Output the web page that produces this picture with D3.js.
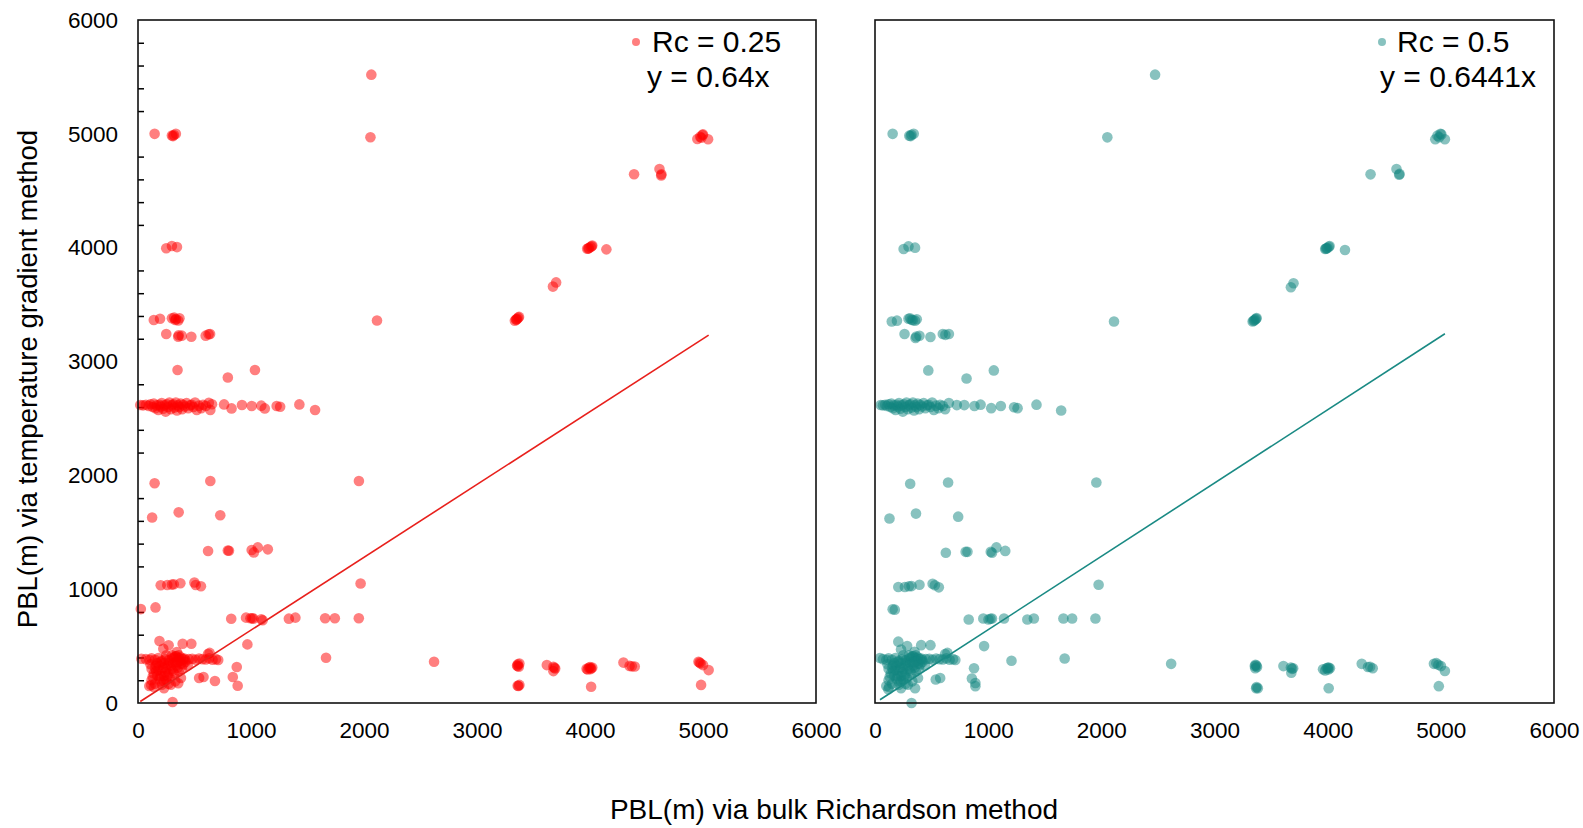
<!DOCTYPE html>
<html>
<head>
<meta charset="utf-8">
<script src="https://cdn.jsdelivr.net/npm/d3@7"></script>
<style>
  body { margin: 0; background: #fff; }
  text { font-family: "Liberation Sans", Arial, sans-serif; fill: #000; }
</style>
</head>
<body>
<div id="chart"></div>
<script>
// Data: [bulk Richardson PBL, temperature gradient PBL]
const rc025Points = [
    [2065,5520],
    [147,5000],[300,4985],[318,4990],[335,5000],[310,4980],[2057,4970],
    [4950,4955],[4975,4975],[4995,4990],[5000,4995],[5045,4952],[4985,4965],
    [4390,4645],[4615,4690],[4630,4635],[4632,4645],
    [3975,3990],[3990,3998],[4005,4005],[4015,4012],[4020,4018],[3985,3992],[4145,3985],
    [250,3995],[300,4015],[345,4005],
    [3700,3695],[3672,3658],
    [3335,3358],[3345,3368],[3355,3375],[3365,3385],[3372,3392],[3350,3370],
    [140,3365],[195,3375],[300,3380],[320,3385],[336,3374],[356,3360],[367,3380],[330,3365],
    [2115,3360],
    [250,3242],[356,3218],[387,3227],[472,3218],[599,3227],[625,3240],[638,3242],[360,3230],
    [350,2925],[1035,2925],[795,2860],
    [20,2618],[45,2615],[70,2620],[95,2610],[110,2625],[130,2600],[140,2630],[155,2590],
    [165,2615],[180,2575],[190,2620],[200,2605],[210,2635],[222,2585],[235,2615],[245,2560],
    [255,2625],[265,2600],[278,2640],[290,2580],[300,2615],[312,2625],[322,2595],[335,2640],
    [345,2570],[355,2615],[365,2600],[378,2630],[390,2580],[400,2620],[415,2605],[430,2635],
    [445,2590],[460,2615],[475,2620],[490,2600],[505,2640],[520,2575],[540,2612],[560,2590],
    [575,2620],[600,2610],[627,2637],[640,2575],[655,2625],[762,2623],[828,2588],
    [920,2618],[1006,2609],[1091,2612],[1122,2588],[1227,2609],[1258,2603],[1428,2623],[1567,2574],
    [147,1930],[640,1950],[1955,1950],
    [125,1630],[360,1675],[728,1650],
    [620,1335],[795,1340],[805,1338],[1006,1344],[1060,1367],[1025,1323],[1149,1350],
    [201,1034],[259,1037],[300,1040],[317,1043],[375,1052],[499,1058],[511,1037],[557,1025],
    [1970,1050],
    [25,825],[155,840],
    [825,740],[956,750],[995,744],[1010,745],[1022,741],[1091,735],[1103,727],[1335,741],
    [1393,750],[1656,744],[1742,744],[1954,744],
    [968,515],[1664,398],[2620,363],
    [190,545],[271,507],[224,477],[395,521],[472,521],[344,448],[634,440],[620,430],
    [30,389],[70,385],[100,380],[120,392],[150,380],[180,395],[210,370],[240,385],[270,375],
    [300,390],[320,400],[340,410],[360,395],[380,400],[400,385],[420,375],[450,385],[480,388],
    [510,380],[540,390],[570,385],[600,382],[630,392],[660,380],[690,385],[710,378],
    [120,300],[140,260],[160,330],[180,290],[200,240],[220,310],[240,270],[260,330],[280,220],
    [300,300],[320,260],[340,330],[360,280],[380,345],[250,200],[200,190],[210,160],[150,170],
    [130,230],[170,350],[230,350],[270,350],[310,350],[290,160],[330,190],[380,220],[400,340],
    [420,360],[440,330],
    [110,340],[150,310],[190,330],[210,280],[230,240],[250,300],[270,260],[290,330],[310,280],
    [330,360],[350,310],[370,370],[390,300],[170,240],[190,210],[230,190],[260,240],[330,410],
    [360,420],[300,420],[250,420],[200,360],[160,280],[120,200],[270,170],[350,360],[410,390],
    [874,316],[839,229],[681,193],[541,220],[580,229],[882,152],
    [116,159],[356,173],[306,9],[140,140],[230,130],[100,150],
    [3355,330],[3362,340],[3370,318],[3375,347],[3360,325],[3367,150],[3375,159],[3360,152],
    [3618,333],[3676,318],[3692,303],[3676,280],[3685,310],
    [3970,300],[3990,310],[4000,315],[4010,305],[4020,312],[3980,295],[4005,298],[4010,143],
    [4296,355],[4350,326],[4396,320],[4370,322],
    [4960,363],[4980,347],[5000,333],[5050,289],[4970,355],[4983,159]
];

const rc05Points = [
    [2475,5520],
    [156,5000],[303,4984],[323,4992],[342,5000],[315,4980],[2053,4969],
    [4951,4953],[4970,4984],[4997,5000],[5005,4995],[5036,4953],[4985,4970],
    [4379,4644],[4608,4691],[4632,4640],[4635,4648],
    [3978,3988],[3990,3995],[3998,3996],[4010,4008],[4017,4015],[3985,3992],[4153,3980],
    [253,3988],[296,4011],[354,4000],
    [3698,3687],[3675,3652],
    [3337,3351],[3345,3358],[3352,3363],[3360,3370],[3368,3375],[3372,3382],
    [148,3351],[194,3359],[296,3375],[310,3380],[323,3367],[354,3359],[369,3371],[335,3362],
    [2112,3351],
    [261,3242],[358,3207],[393,3226],[490,3215],[599,3242],[622,3234],[653,3242],[365,3220],
    [471,2922],[1050,2922],[809,2851],
    [50,2618],[70,2615],[90,2620],[105,2610],[120,2625],[135,2600],[145,2630],[158,2590],
    [168,2615],[182,2575],[192,2620],[202,2605],[212,2635],[224,2585],[236,2615],[246,2560],
    [256,2625],[266,2600],[278,2640],[290,2580],[300,2615],[312,2625],[322,2595],[335,2640],
    [345,2570],[355,2615],[365,2600],[378,2630],[390,2580],[400,2620],[415,2605],[430,2635],
    [445,2590],[460,2615],[475,2620],[490,2600],[505,2640],[520,2575],[540,2612],[560,2590],
    [575,2620],[600,2610],[620,2580],[653,2636],[723,2617],[789,2617],
    [879,2609],[933,2621],[1027,2590],[1112,2609],[1229,2598],[1260,2590],[1427,2621],[1645,2570],
    [311,1926],[646,1937],[1956,1937],
    [128,1621],[362,1664],[735,1637],
    [626,1320],[801,1328],[817,1328],[1023,1328],[1073,1367],[1034,1320],[1151,1336],
    [206,1019],[264,1019],[300,1025],[323,1027],[393,1039],[509,1047],[529,1035],[564,1016],
    [1976,1039],
    [156,824],[175,820],
    [828,734],[957,742],[1003,734],[1020,740],[1034,742],[1140,742],[1346,734],[1404,742],
    [1665,742],[1742,742],[1948,742],
    [964,500],[1676,391],[2617,344],[1206,371],
    [206,539],[284,500],[230,470],[408,508],[490,508],[350,450],[620,430],[640,440],
    [44,395],[70,385],[100,380],[120,392],[150,380],[180,395],[210,370],[240,385],[270,375],
    [300,390],[320,400],[340,410],[360,395],[380,400],[400,385],[420,375],[450,385],[480,388],
    [510,380],[540,390],[570,385],[600,382],[630,392],[660,380],[690,385],[710,378],
    [120,300],[140,260],[160,330],[180,290],[200,240],[220,310],[240,270],[260,330],[280,220],
    [300,300],[320,260],[340,330],[360,280],[380,345],[250,200],[200,190],[210,160],[150,170],
    [130,230],[170,350],[230,350],[270,350],[310,350],[290,160],[330,190],[380,220],[400,340],
    [420,360],[440,330],
    [110,340],[150,310],[190,330],[210,280],[230,240],[250,300],[270,260],[290,330],[310,280],
    [330,360],[350,310],[370,370],[390,300],[170,240],[190,210],[230,190],[260,240],[330,410],
    [360,420],[300,420],[250,420],[200,360],[160,280],[120,200],[270,170],[350,360],[410,390],
    [875,305],[856,215],[887,148],[887,176],[537,207],[576,219],
    [124,141],[117,121],[354,129],[323,0],[230,130],[100,150],
    [3356,324],[3362,335],[3376,316],[3360,305],[3370,330],[3368,129],[3383,129],[3372,140],
    [3609,324],[3675,312],[3695,305],[3679,266],[3685,300],
    [3959,297],[3990,305],[4000,310],[4009,312],[4020,305],[3978,285],[4005,295],[4009,129],
    [4301,344],[4356,316],[4398,305],[4375,318],
    [4939,344],[4978,336],[5001,324],[5036,281],[4960,350],[4982,148]
];

const axisTicks = [0, 1000, 2000, 3000, 4000, 5000, 6000];
const minorTicks = d3.range(0, 6001, 200).filter(v => v % 1000 !== 0);

const panels = [
    { points: rc025Points, color: '#ff0000', lineColor: '#e8201c', slope: 0.64,
      legend: 'Rc = 0.25', fit: 'y = 0.64x', left: 138, right: 816, showY: true,
      legendDot: 636, legendText: 652, fitText: 647 },
    { points: rc05Points, color: '#11857f', lineColor: '#1a8a84', slope: 0.6441,
      legend: 'Rc = 0.5', fit: 'y = 0.6441x', left: 875, right: 1554, showY: false,
      legendDot: 1382, legendText: 1397, fitText: 1380 }
];

const plotTop = 20, plotBottom = 703;

const svg = d3.select('#chart')
    .append('svg')
    .attr('width', 1583)
    .attr('height', 828);

panels.forEach(p => {
    const xScale = d3.scaleLinear().domain([0, 6000]).range([p.left, p.right]);
    const yScale = d3.scaleLinear().domain([0, 6000]).range([plotBottom, plotTop]);

    const g = svg.append('g');

    // x tick labels
    g.append('g')
        .attr('transform', `translate(0, ${plotBottom})`)
        .call(d3.axisBottom(xScale).tickValues(axisTicks).tickFormat(d3.format('d'))
            .tickSize(0).tickPadding(19))
        .call(a => a.select('.domain').remove())
        .selectAll('text')
        .style('font-size', '22.5px')
        .style('font-family', '"Liberation Sans", Arial, sans-serif');

    if (p.showY) {
        g.append('g')
            .attr('transform', `translate(${p.left}, 0)`)
            .call(d3.axisLeft(yScale).tickValues(axisTicks).tickFormat(d3.format('d'))
                .tickSize(0).tickPadding(20))
            .call(a => a.select('.domain').remove())
            .selectAll('text')
            .style('font-size', '22.5px')
            .style('font-family', '"Liberation Sans", Arial, sans-serif');

        // small inward ticks
        g.append('g')
            .attr('transform', `translate(${p.left}, 0)`)
            .call(d3.axisRight(yScale).tickValues(minorTicks).tickSize(6).tickFormat(''))
            .call(a => a.select('.domain').remove())
            .selectAll('line')
            .attr('stroke', '#000')
            .attr('stroke-width', 1.5);
    }

    // points
    g.append('g')
        .selectAll('circle')
        .data(p.points)
        .join('circle')
        .attr('cx', d => xScale(d[0]))
        .attr('cy', d => yScale(d[1]))
        .attr('r', 5.3)
        .attr('fill', p.color)
        .attr('fill-opacity', 0.5);

    // fitted line through origin
    const [xMin, xMax] = d3.extent(p.points, d => d[0]);
    g.append('line')
        .attr('x1', xScale(xMin))
        .attr('y1', yScale(p.slope * xMin))
        .attr('x2', xScale(xMax))
        .attr('y2', yScale(p.slope * xMax))
        .attr('stroke', p.lineColor)
        .attr('stroke-width', 1.6);

    // frame
    g.append('rect')
        .attr('x', p.left)
        .attr('y', plotTop)
        .attr('width', p.right - p.left)
        .attr('height', plotBottom - plotTop)
        .attr('fill', 'none')
        .attr('stroke', '#111')
        .attr('stroke-width', 1.6);

    // legend
    g.append('circle')
        .attr('cx', p.legendDot)
        .attr('cy', 42)
        .attr('r', 4)
        .attr('fill', p.color)
        .attr('fill-opacity', 0.5);
    g.append('text')
        .attr('x', p.legendText)
        .attr('y', 52)
        .style('font-size', '30px')
        .text(p.legend);
    g.append('text')
        .attr('x', p.fitText)
        .attr('y', 87)
        .style('font-size', '30px')
        .text(p.fit);
});

// axis titles
svg.append('text')
    .attr('x', 834)
    .attr('y', 819)
    .attr('text-anchor', 'middle')
    .style('font-size', '28px')
    .text('PBL(m) via bulk Richardson method');

svg.append('text')
    .attr('transform', 'translate(37, 379) rotate(-90)')
    .attr('text-anchor', 'middle')
    .style('font-size', '27.5px')
    .text('PBL(m) via temperature gradient method');
</script>
</body>
</html>
